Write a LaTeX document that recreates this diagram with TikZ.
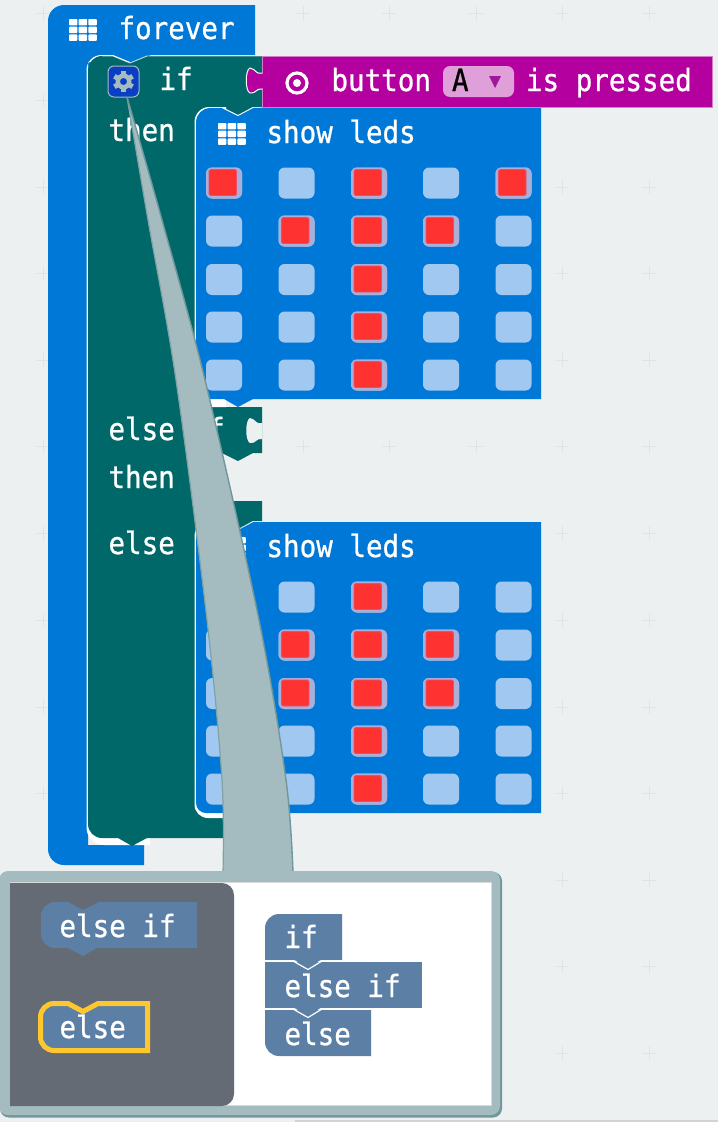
\documentclass[tikz,border=0pt]{standalone}
\usepackage{fontspec}
\setmainfont{DejaVu Sans Mono}
\newfontfamily\lblfont{DejaVu Sans Mono}[FakeBold=0.8,FakeStretch=0.9]
\definecolor{bg}{HTML}{ECF0F1}
\definecolor{plusc}{HTML}{DFE4E6}
\definecolor{mblue}{HTML}{0078D7}
\definecolor{mteal}{HTML}{006868}
\definecolor{mpurple}{HTML}{B4009E}
\definecolor{mpurpleL}{HTML}{D27FC8}
\definecolor{mdrop}{HTML}{DF9FD8}
\definecolor{mtri}{HTML}{A0189A}
\definecolor{ledoff}{HTML}{A0C8F0}
\definecolor{ledhalo}{HTML}{A9AFD8}
\definecolor{ledrim}{HTML}{E8506A}
\definecolor{ledon}{HTML}{FF3232}
\definecolor{lens}{HTML}{A4BCBF}
\definecolor{lensD}{HTML}{6F979C}
\definecolor{flyout}{HTML}{646B75}
\definecolor{mutblue}{HTML}{5C7FA6}
\definecolor{myel}{HTML}{FFC72E}
\definecolor{gearbg}{HTML}{0A3FC4}
\tikzset{
  x=1pt,y=-1pt,
  lbl/.style={anchor=base west,inner sep=0pt,outer sep=0pt,yshift=-1pt,text=white,font=\lblfont\fontsize{30.6}{33}\selectfont},
  plusmark/.style={draw=plusc,line width=1},
  offled/.style={fill=ledoff,rounded corners=6},
  haloled/.style={fill=ledhalo,rounded corners=6},
  redled/.style={fill=ledon,draw=ledrim,line width=.8,rounded corners=1.5},
  gridicon/.style={fill=white,rounded corners=.8},
  edgeline/.style={draw=white,line width=.9,opacity=.75},
  mut/.style={fill=mutblue},
}
% 3x3 icon; #1,#2 = its top-left corner
\newcommand{\gridico}[2]{%
  \foreach \i in {0,1,2}{\foreach \j in {0,1,2}{%
    \fill[gridicon] ({#1+\i*9.7},{#2+\j*7.7}) rectangle ++(8.4,6.4);}}}
% one LED block grid; #1 = top offset, #2 = list of lit cells col/row
\newcommand{\ledcells}[2]{%
  \foreach \c in {224,296.5,369,441,513.5}{\foreach \r in {183,231,279.5,327,375}{%
    \fill[offled] (\c-18,{\r+#1-15.5}) rectangle (\c+18,{\r+#1+15.5});}}%
  \foreach \c/\r in {#2}{%
    \fill[haloled] (\c-18,{\r+#1-15.5}) rectangle (\c+18,{\r+#1+15.5});
    \path[redled] (\c-15,{\r+#1-13.5}) rectangle (\c+12.5,{\r+#1+12.5});}}
% notch/tab profile; #1 = y of top
\newcommand{\puzzletab}[1]{%
  (262,{#1+5}) .. controls (256,{#1+7}) and (256,{#1+1}) .. (250,{#1}) .. controls (245,{#1+2}) and (245,{#1+23}) .. (250,{#1+25}) .. controls (256,{#1+26}) and (256,{#1+20}) .. (262,{#1+21})}
% show-leds block outline; #1 = top y
\newcommand{\ledblock}[1]{%
  (196,{#1+14}) arc[start angle=180,end angle=270,radius=14] -- (222,{#1}) -- (238,{#1+8}) -- (253,{#1}) -- (541,{#1}) -- (541,{#1+291}) -- (253,{#1+291}) -- (238,{#1+299}) -- (224,{#1+291}) -- (206,{#1+291}) arc[start angle=90,end angle=180,radius=10] -- cycle}
\begin{document}
\begin{tikzpicture}
\useasboundingbox (0,0) rectangle (718,1122);
\fill[bg] (0,0) rectangle (718,1122);
% grid of plus marks
\foreach \px in {43,130,216,303,389,476,562,649}{\foreach \py in {13,100,187,273,360,446,533,620,707,793,880,966,1053}{%
  \draw[plusmark] (\px-7,\py) -- (\px+7,\py) (\px,\py-7) -- (\px,\py+7);}}
\fill[gray!35] (295,1120) rectangle (718,1122);
% forever block
\fill[mblue] (48,21) arc[start angle=180,end angle=270,radius=16] -- (255,5) -- (255,55) -- (150,55) -- (150,66) -- (88,66) -- (88,845) -- (144,845) -- (144,865) -- (64,865) arc[start angle=90,end angle=180,radius=16] -- cycle;
\gridico{69}{19}
\node[lbl] (forever) at (118.5,38) {forever};
% if block: white rim below it, then the body
\fill[white] (86.5,70) arc[start angle=180,end angle=270,radius=15] -- (113,55) -- (130,62) -- (88,62) -- (88,820) -- (150,820) -- (150,845) -- (104,845) arc[start angle=90,end angle=180,radius=17.5] -- cycle;
\fill[mteal] (88,70) arc[start angle=180,end angle=270,radius=14] -- (113,56) -- (130,63) -- (147,56) -- (262,56) -- (262,107) -- (253,107) -- (238,115) -- (222,107) -- (222,125) -- (200,125) -- (200,407) -- (262,407) -- (262,453) -- (253,453) -- (238,461) -- (222,453) -- (200,453) -- (200,501) -- (262,501) -- (262,521) -- (253,521) -- (238,530) -- (235,530) -- (235,838) -- (147,838) -- (132,846) -- (118,838) -- (102,838) arc[start angle=90,end angle=180,radius=14] -- cycle;
\draw[edgeline] (102,56) -- (113,56) -- (130,63) -- (147,56) -- (262,56);
\fill[bg] \puzzletab{418} -- cycle;
% gear button
\node[draw=lens,fill=gearbg,line width=1,rounded corners=6,minimum width=31,minimum height=31,inner sep=0pt] (gearbtn) at (123.5,81.5) {};
\fill[lens,even odd rule] (123.5,81.5) circle[radius=8] (123.5,81.5) circle[radius=3.6];
\foreach \a in {30,90,150,210,270,330}{\fill[lens,rotate around={\a:(123.5,81.5)}] (130.5,79) rectangle (134,84);}
\node[lbl] (iflabel) at (159.5,89) {if};
\node[lbl] (then1) at (108.5,140) {then};
\node[lbl] (elseif) at (108.5,439) {else if};
\node[lbl] (then2) at (108.5,487) {then};
\node[lbl] (else1) at (108.5,553) {else};
% button is pressed
\filldraw[fill=mpurple,draw=mpurpleL,line width=.8] (262,56.5) -- (712,56.5) -- (712,107) -- (262,107) -- cycle;
\fill[mpurple] \puzzletab{68} -- cycle;
\draw[draw=white,line width=1] \puzzletab{68};
\fill[mpurple] (261,74) rectangle (264,88);
\draw[white,line width=3.2] (297,83) circle[radius=10];
\fill[white] (297,83) circle[radius=4];
\node[lbl] (button) at (331.5,90) {button};
\fill[mdrop,rounded corners=7] (443,66) rectangle (514,97);
\node[lbl,text=black] (dropa) at (452,90) {A};
\fill[mtri] (489,76) -- (501,76) -- (495,88) -- cycle;
\node[lbl] (ispressed) at (526,90) {is pressed};
% first show leds
\fill[white] (194.5,122) arc[start angle=180,end angle=270,radius=15] -- (226,107) -- (226,407) -- (194.5,407) -- cycle;
\fill[mblue] \ledblock{108};
\draw[edgeline] (195.5,395) -- (195.5,122) arc[start angle=180,end angle=270,radius=14.5] -- (222,107.5) -- (238,115.5) -- (253,107.5);
\gridico{218}{123}
\node[lbl] (leds1) at (266.5,142) {show leds};
\ledcells{0}{224/183,369/183,513.5/183,296.5/231,369/231,441/231,369/279.5,369/327,369/375}
% second show leds
\fill[white] (194.5,536) arc[start angle=180,end angle=270,radius=15] -- (226,521) -- (226,818) -- (208,818) arc[start angle=90,end angle=180,radius=13.5] -- cycle;
\fill[mblue] \ledblock{522};
\draw[edgeline] (195.5,809) -- (195.5,536) arc[start angle=180,end angle=270,radius=14.5] -- (222,521.5) -- (238,529.5) -- (253,521.5);
\gridico{218}{537}
\node[lbl] (leds2) at (266.5,556) {show leds};
\ledcells{414}{369/183,296.5/231,369/231,441/231,296.5/279.5,369/279.5,441/279.5,369/327,369/375}
% callout lens
\path[fill=lens] plot[smooth,tension=.55] coordinates {(127,97) (148,220) (176,380) (207,620) (222,780) (223,875)} -- plot[smooth,tension=.55] coordinates {(293,875) (286,780) (259,620) (205,380) (162,220) (127,97)} -- cycle;
\draw[lensD!70!lens,line width=1.2] plot[smooth,tension=.55] coordinates {(127,97) (148,220) (176,380) (207,620) (222,780) (223,872)};
\draw[lensD,line width=1.4] plot[smooth,tension=.55] coordinates {(127,97) (162,220) (205,380) (259,620) (286,780) (293,872)};
% mutator panel
\fill[lensD,rounded corners=9] (0,872) rectangle (502,1117.5);
\fill[lens,rounded corners=9] (-1,871) rectangle (500,1115);
\fill[white] (10,882) rectangle (492,1106);
\draw[gray!30,line width=1.5] (10,882.5) -- (492,882.5) (491.5,882) -- (491.5,1106) (10,1105.5) -- (492,1105.5);
\fill[flyout] (10,883) -- (222,883) arc[start angle=270,end angle=360,radius=12] -- (234,1094) arc[start angle=0,end angle=90,radius=12] -- (10,1106) -- cycle;
% flyout blocks
\fill[mut] (41,916) arc[start angle=180,end angle=270,radius=14] -- (68,902) -- (83,910) -- (99,902) -- (197,902) -- (197,948) -- (97,948) -- (83,956) -- (68,948) -- (55,948) arc[start angle=90,end angle=180,radius=14] -- cycle;
\node[lbl] (flyelseif) at (59.5,936) {else if};
\filldraw[mut,draw=myel,line width=5] (40.5,1017) arc[start angle=180,end angle=270,radius=13.5] -- (68,1003.5) -- (83,1011.5) -- (98,1003.5) -- (147.5,1003.5) -- (147.5,1050.5) -- (54,1050.5) arc[start angle=90,end angle=180,radius=13.5] -- cycle;
\node[lbl] (flyelse) at (59.5,1037) {else};
% workspace blocks
\fill[mut] (265,1010) -- (371,1010) -- (371,1056) -- (279,1056) arc[start angle=90,end angle=180,radius=14] -- cycle;
\fill[mut] (265,962) -- (422,962) -- (422,1008) -- (265,1008) -- cycle;
\fill[mut] (293,1007) -- (322,1007) -- (308,1016) -- cycle;
\fill[mut] (265,928) arc[start angle=180,end angle=270,radius=14] -- (342,914) -- (342,960) -- (265,960) -- cycle;
\fill[mut] (293,959) -- (322,959) -- (308,968) -- cycle;
\draw[white,line width=1.2] (265,961) -- (293,961) -- (308,969.5) -- (322,961) -- (342,961);
\draw[white,line width=1.2] (265,1009) -- (293,1009) -- (308,1017.5) -- (322,1009) -- (371,1009);
\node[lbl] (wsif) at (284.5,947) {if};
\node[lbl] (wselseif) at (284.5,996) {else if};
\node[lbl] (wselse) at (284.5,1044) {else};
\end{tikzpicture}
\end{document}
